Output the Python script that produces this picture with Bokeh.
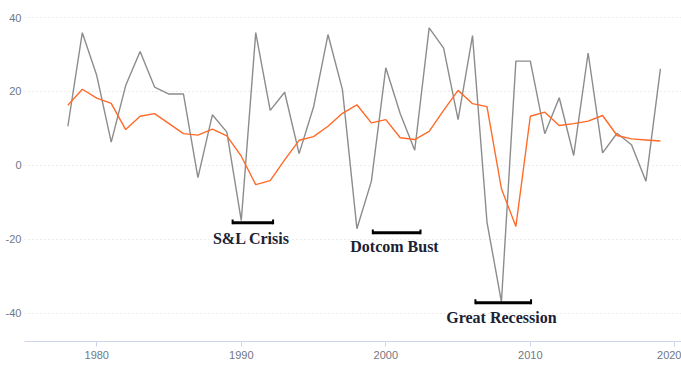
from bokeh.plotting import figure
from bokeh.models import FixedTicker, ColumnDataSource
from bokeh.core.properties import value
from bokeh.embed import file_html
from bokeh.resources import INLINE

years = list(range(1978, 2020))
gray_vals = [10.6, 35.9, 24.3, 6.3, 21.6, 30.8, 21.2, 19.3, 19.3, -3.3,
             13.7, 9.0, -14.9, 35.9, 14.9, 19.8, 3.2, 15.8, 35.4, 20.5,
             -17.1, -4.3, 26.4, 14.0, 4.1, 37.2, 31.7, 12.4, 35.1, -15.3,
             -36.9, 28.2, 28.2, 8.6, 18.3, 2.7, 30.4, 3.4, 8.7, 5.6,
             -4.3, 26.1]
orange_vals = [16.3, 20.6, 18.2, 16.8, 9.7, 13.3, 14.0, 11.3, 8.6, 8.2,
               9.8, 8.0, 2.5, -5.2, -4.1, 1.5, 6.8, 7.8, 10.6, 14.1,
               16.4, 11.5, 12.4, 7.5, 7.0, 9.2, 14.9, 20.3, 16.7, 15.9,
               -6.3, -16.5, 13.3, 14.4, 10.8, 11.3, 12.0, 13.5, 8.1, 7.2,
               6.9, 6.6]

x_ticks = [1980, 1990, 2000, 2010, 2020]
y_ticks = [-40, -20, 0, 20, 40]

event_labels = ["S&L Crisis", "Dotcom Bust", "Great Recession"]
event_start = [1989.4, 1999.1, 2006.2]
event_end = [1992.2, 2002.4, 2010.05]
event_bar_y = [-15.5, -18.2, -37.1]
event_label_x = [1990.7, 2000.6, 2008.0]
event_label_y = [-19.7, -22.0, -41.0]

p = figure(width=681, height=365, x_range=(1975, 2020.46), y_range=(-47.6, 44.6),
           output_backend="svg", toolbar_location=None,
           min_border_top=0, min_border_right=0, min_border_left=24, min_border_bottom=24)
p.outline_line_color = None
p.background_fill_color = "white"
p.border_fill_color = "white"

p.xgrid.grid_line_color = None
p.ygrid.grid_line_color = "#d9d9d9"
p.ygrid.grid_line_dash = "1 3"
p.ygrid.grid_line_width = 1

p.xaxis.ticker = FixedTicker(ticks=x_ticks)
p.yaxis.ticker = FixedTicker(ticks=y_ticks)
p.yaxis.major_label_overrides = {t: str(t) for t in y_ticks}
p.xaxis.axis_line_color = "#ccd6eb"
p.xaxis.major_tick_line_color = "#ccd6eb"
p.xaxis.major_tick_out = 5
p.xaxis.major_tick_in = 0
p.xaxis.minor_tick_line_color = None
p.xaxis.major_label_standoff = 4
p.yaxis.axis_line_color = None
p.yaxis.major_tick_line_color = None
p.yaxis.major_tick_out = 0
p.yaxis.major_tick_in = 0
p.yaxis.minor_tick_line_color = None
p.yaxis.major_label_standoff = 3
for ax in (p.xaxis, p.yaxis):
    ax.major_label_text_font = "Liberation Sans"
    ax.major_label_text_font_size = "11px"
    ax.major_label_text_color = "#707784"

p.line(years, gray_vals, line_color="#8c8c8c", line_width=1.4)
p.line(years, orange_vals, line_color="#ff6a28", line_width=1.4)

# brackets
p.segment(x0=event_start, y0=event_bar_y, x1=event_end, y1=event_bar_y,
          line_color="black", line_width=3)
ends_x = event_start + event_end
ends_y = event_bar_y + event_bar_y
p.segment(x0=ends_x, y0=[v - 0.4 for v in ends_y], x1=ends_x, y1=[v + 0.9 for v in ends_y],
          line_color="black", line_width=2)

src = ColumnDataSource(dict(x=event_label_x, y=event_label_y, t=event_labels))
p.text(x="x", y="y", text="t", source=src, text_font=value("Liberation Serif"),
       text_font_style="bold", text_font_size="16px", text_color="#1a2233",
       text_align="center", text_baseline="middle")

open("out.html", "w").write(file_html(p, INLINE))
